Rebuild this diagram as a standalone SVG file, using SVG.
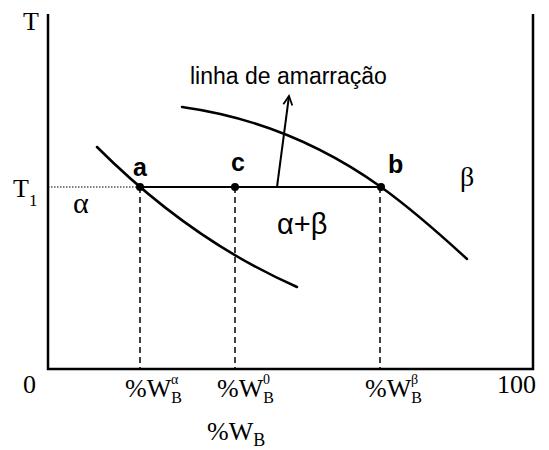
<svg xmlns="http://www.w3.org/2000/svg" width="549" height="450" viewBox="0 0 549 450">
<defs>
<style>
.ax{stroke:#000;stroke-width:2.5;fill:none}
.cv{stroke:#000;stroke-width:2.5;fill:none;stroke-linecap:round}
.tie{stroke:#000;stroke-width:2;fill:none}
.dash{stroke:#000;stroke-width:1.5;stroke-dasharray:6,4;fill:none}
.dot{stroke:#000;stroke-width:1;stroke-dasharray:1.5,1.5;fill:none}
.serif{font-family:"Liberation Serif","Times New Roman",serif;fill:#000;font-size:26px}
.sans{font-family:"Liberation Sans",Arial,sans-serif;fill:#000}
.pt{font-family:"Liberation Sans",Arial,sans-serif;font-weight:bold;font-size:25px;fill:#000}
</style>
<marker id="ah" markerWidth="12" markerHeight="12" refX="10" refY="5" orient="auto" markerUnits="userSpaceOnUse" viewBox="0 0 12 10">
<path d="M1,0.5 L10,5 L1,9.5" fill="none" stroke="#000" stroke-width="1.8"/>
</marker>
</defs>
<g id="axes">
<path class="ax" d="M48,14 V369 H533 V14"/>
<text class="serif" x="23" y="30">T</text>
<text class="serif" x="13" y="197">T<tspan font-size="17" dy="9">1</tspan></text>
<text class="serif" x="23" y="393">0</text>
<text class="serif" x="497" y="393">100</text>
</g>
<g id="connectors">
<path class="dot" d="M48,187 H140"/>
<path class="tie" d="M140,187 H381"/>
<path class="dash" d="M140,187 V369 M235,187 V369 M380,187 V369"/>
<path class="tie" d="M277,187 L289,96" marker-end="url(#ah)"/>
</g>
<g id="curve-alpha">
<path class="cv" d="M97,147 Q190,240 297,287"/>
</g>
<g id="curve-beta">
<path class="cv" d="M182,107 Q290,122 381,187 Q417,213 467,259"/>
</g>
<g id="point-a">
<circle cx="140" cy="187" r="4"/>
<text class="pt" x="133" y="176">a</text>
</g>
<g id="point-c">
<circle cx="235" cy="187" r="4"/>
<text class="pt" x="231" y="171">c</text>
</g>
<g id="point-b">
<circle cx="381" cy="187" r="4"/>
<text class="pt" x="388" y="173">b</text>
</g>
<g id="label-tie">
<text class="sans" x="190" y="84" font-size="23">linha de amarração</text>
</g>
<g id="phase-alpha">
<text class="serif" x="73" y="213" style="font-size:30px">α</text>
</g>
<g id="phase-beta">
<text class="serif" x="460" y="186" style="font-size:28px">β</text>
</g>
<g id="phase-ab">
<text class="sans" x="277" y="234" font-size="29">α+β</text>
</g>
<g id="xlabel-alpha">
<text class="serif" x="125" y="397">%W<tspan font-size="16" dy="6">B</tspan><tspan font-size="14" dx="-11" dy="-19">α</tspan></text>
</g>
<g id="xlabel-0">
<text class="serif" x="217" y="397">%W<tspan font-size="16" dy="6">B</tspan><tspan font-size="14" dx="-11" dy="-19">0</tspan></text>
</g>
<g id="xlabel-beta">
<text class="serif" x="365" y="397">%W<tspan font-size="16" dy="6">B</tspan><tspan font-size="14" dx="-11" dy="-19">β</tspan></text>
</g>
<g id="xlabel-main">
<text class="serif" x="207" y="440">%W<tspan font-size="18" dy="6">B</tspan></text>
</g>
</svg>
